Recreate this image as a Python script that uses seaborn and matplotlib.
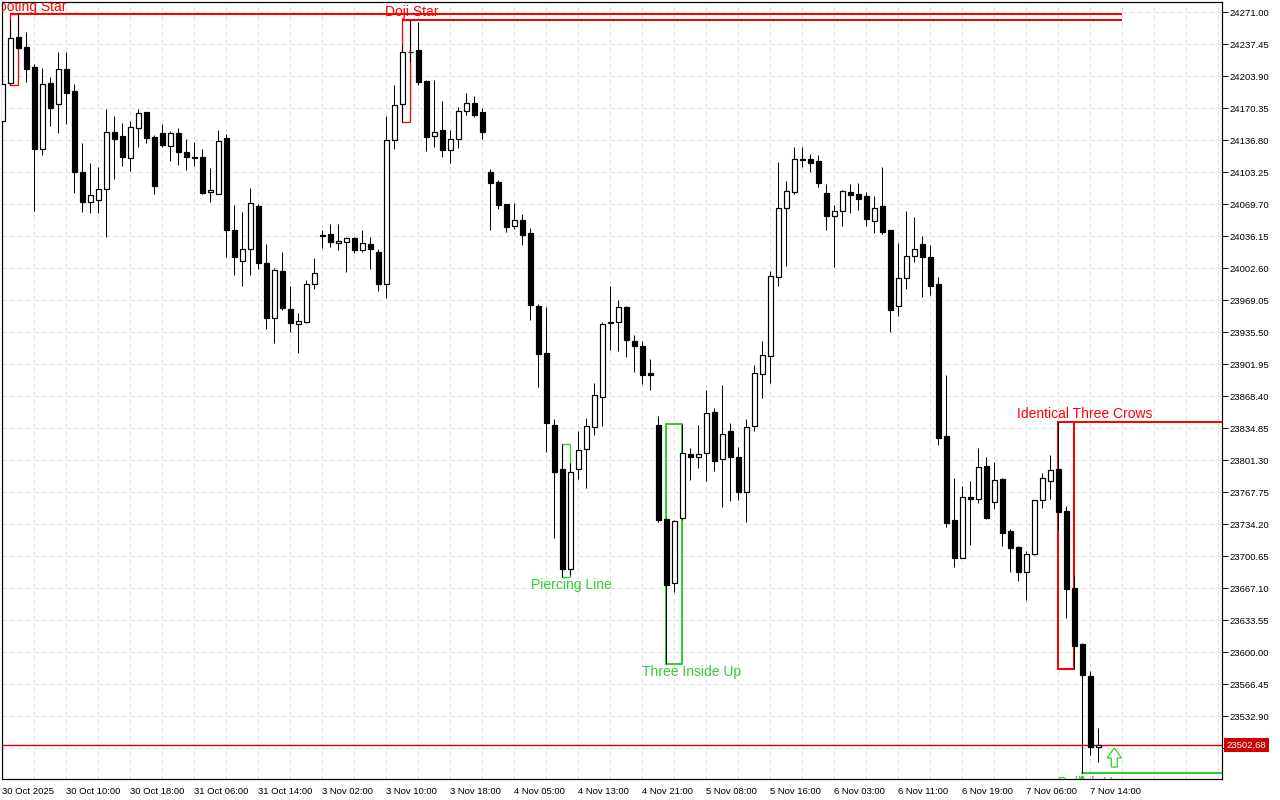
import numpy as np
import pandas as pd
import seaborn as sns
import matplotlib
matplotlib.use("Agg")
import matplotlib.pyplot as plt
from matplotlib.patches import Rectangle, FancyArrow, Polygon
import matplotlib.transforms as mtransforms

# ---------------- data (hourly candles) ----------------
opens = [24157.4, 24196.6, 24244.8, 24234.3, 24213.3, 24128.0, 24196.6, 24175.2, 24211.2, 24188.5,
         24103.2, 24071.8, 24073.9, 24085.4, 24145.2, 24141.3, 24117.9, 24149.4, 24166.2, 24139.9,
         24144.1, 24131.1, 24144.1, 24124.2, 24119.0, 24119.0, 24082.3, 24080.8, 24138.9, 24042.4,
         24010.6, 24023.2, 24067.6, 24007.8, 23951.0, 23999.5, 23959.6, 23943.9, 23946.6, 23985.8,
         24037.2, 24038.2, 24028.8, 24029.9, 24034.1, 24022.1, 24027.8, 24019.4, 23986.5, 24136.8,
         24174.5, 24229.4, 24231.5, 24199.0, 24141.0, 24147.3, 24126.3, 24138.5, 24167.2, 24175.6,
         24166.2, 24103.2, 24092.8, 24069.7, 24046.6, 24052.9, 24039.3, 23962.8, 23913.5, 23838.3,
         23791.9, 23687.0, 23791.9, 23812.8, 23835.9, 23867.4, 23945.6, 23946.0, 23961.7, 23926.1,
         23920.8, 23892.5, 23838.0, 23740.1, 23672.3, 23741.1, 23807.9, 23805.1, 23808.6, 23851.6,
         23802.4, 23831.7, 23804.4, 23767.8, 23837.6, 23891.5, 23911.0, 23993.2, 24066.1, 24082.3,
         24116.6, 24116.9, 24115.1, 24081.5, 24057.1, 24062.4, 24082.3, 24080.2, 24078.1, 24051.9,
         24067.6, 24042.4, 23962.8, 23992.1, 24015.2, 24027.8, 24014.1, 23985.8, 23826.5, 23738.4,
         23698.6, 23762.5, 23761.0, 23795.0, 23757.3, 23781.7, 23727.2, 23710.4, 23684.5, 23702.7,
         23759.4, 23779.3, 23791.9, 23748.1, 23667.4, 23609.0, 23575.2, 23500.4]
highs = [24197.9, 24262.9, 24268.9, 24250.0, 24216.8, 24212.3, 24202.9, 24229.4, 24229.4, 24195.5,
         24133.7, 24112.7, 24108.5, 24169.6, 24162.0, 24154.6, 24157.0, 24169.6, 24167.0, 24142.4,
         24154.2, 24146.2, 24149.7, 24138.2, 24135.0, 24127.4, 24107.8, 24147.6, 24143.4, 24068.7,
         24061.3, 24086.5, 24069.7, 24027.8, 24002.6, 24019.4, 23984.0, 23955.4, 23990.3, 24013.7,
         24042.4, 24049.0, 24049.0, 24035.4, 24035.1, 24042.8, 24035.1, 24023.2, 24162.3, 24194.5,
         24236.7, 24262.9, 24260.8, 24200.0, 24200.0, 24178.0, 24147.6, 24172.0, 24186.4, 24183.2,
         24170.4, 24106.7, 24095.2, 24069.7, 24070.8, 24059.2, 24044.5, 23965.5, 23962.3, 23844.3,
         23818.1, 23798.5, 23832.0, 23846.0, 23882.3, 23946.0, 23984.0, 23969.4, 23963.1, 23932.4,
         23926.1, 23907.2, 23847.7, 23740.8, 23738.7, 23839.4, 23813.9, 23838.3, 23875.0, 23856.5,
         23880.2, 23840.1, 23815.2, 23844.3, 23900.9, 23926.4, 23999.5, 24114.0, 24094.1, 24129.5,
         24129.5, 24122.1, 24121.4, 24091.0, 24068.7, 24084.4, 24091.0, 24092.0, 24082.3, 24078.1,
         24108.5, 24042.4, 24028.8, 24062.7, 24056.1, 24036.2, 24026.7, 23993.2, 23890.4, 23782.7,
         23774.4, 23779.6, 23813.9, 23805.1, 23799.2, 23782.7, 23729.6, 23711.5, 23706.5, 23759.7,
         23787.7, 23806.5, 23841.4, 23753.4, 23680.3, 23609.7, 23580.1, 23520.3]
lows = [24154.9, 24194.8, 24233.0, 24198.2, 24063.0, 24121.7, 24151.8, 24144.8, 24153.9, 24081.9,
        24061.9, 24060.3, 24060.9, 24035.7, 24096.5, 24110.2, 24104.9, 24129.5, 24134.3, 24080.8,
        24129.5, 24115.4, 24111.2, 24106.0, 24110.2, 24080.8, 24072.4, 24080.2, 24014.8, 23995.9,
        23984.4, 23995.9, 24002.2, 23939.3, 23924.6, 23958.9, 23936.1, 23914.1, 23945.0, 23981.2,
        24024.2, 24025.2, 24022.1, 23999.0, 24019.0, 24020.0, 24002.2, 23979.1, 23971.8, 24128.0,
        24156.0, 24218.9, 24195.1, 24125.9, 24130.1, 24119.6, 24113.3, 24129.0, 24163.0, 24161.5,
        24138.5, 24043.1, 24065.1, 24041.0, 24044.1, 24027.3, 23948.7, 23878.5, 23810.3, 23720.2,
        23678.6, 23681.0, 23781.7, 23772.6, 23828.1, 23837.6, 23917.3, 23916.2, 23909.9, 23894.2,
        23881.6, 23875.3, 23736.6, 23587.7, 23663.5, 23738.7, 23780.6, 23793.5, 23779.9, 23790.4,
        23752.6, 23758.9, 23759.7, 23736.9, 23832.3, 23866.9, 23882.7, 23984.4, 24005.3, 24080.2,
        24109.1, 24103.9, 24088.2, 24043.1, 24004.3, 24047.3, 24060.9, 24064.0, 24047.3, 24039.9,
        24038.9, 23936.1, 23952.9, 23981.2, 24009.5, 23972.8, 23974.9, 23817.7, 23731.7, 23689.7,
        23698.4, 23712.8, 23756.9, 23739.8, 23749.9, 23711.5, 23684.2, 23675.1, 23655.2, 23701.7,
        23751.6, 23760.4, 23728.2, 23636.3, 23582.8, 23473.8, 23492.0, 23485.3]
closes = [24195.5, 24243.7, 24233.9, 24211.9, 24128.0, 24195.5, 24171.0, 24211.2, 24186.7, 24103.6,
          24072.4, 24079.1, 24085.4, 24145.2, 24138.5, 24119.6, 24150.4, 24165.1, 24139.5, 24089.2,
          24132.2, 24144.1, 24124.9, 24119.0, 24117.9, 24081.9, 24084.7, 24135.7, 24043.1, 24014.8,
          24022.5, 24070.8, 24008.5, 23950.8, 24000.5, 23960.7, 23944.9, 23947.0, 23985.8, 23997.4,
          24036.2, 24029.9, 24031.2, 24034.1, 24022.1, 24028.8, 24023.2, 23986.5, 24137.4, 24173.5,
          24229.1, 24229.9, 24197.9, 24140.6, 24145.2, 24126.3, 24137.9, 24167.2, 24175.6, 24163.6,
          24145.2, 24091.7, 24069.3, 24046.2, 24052.9, 24037.8, 23964.4, 23913.1, 23840.7, 23789.4,
          23687.6, 23789.4, 23811.8, 23837.3, 23869.5, 23944.5, 23946.3, 23961.7, 23927.1, 23921.5,
          23891.0, 23891.0, 23739.0, 23670.9, 23737.7, 23808.6, 23805.1, 23807.9, 23850.6, 23800.9,
          23828.6, 23805.1, 23768.4, 23835.9, 23892.5, 23911.4, 23994.2, 24065.5, 24083.3, 24116.9,
          24116.9, 24113.3, 24092.4, 24057.8, 24062.4, 24083.3, 24079.1, 24075.6, 24054.6, 24065.5,
          24040.7, 23959.2, 23992.1, 24015.2, 24022.5, 24014.8, 23984.4, 23825.0, 23735.9, 23699.2,
          23762.5, 23761.0, 23794.0, 23740.5, 23780.3, 23725.4, 23709.7, 23684.5, 23703.4, 23759.4,
          23782.4, 23790.8, 23747.4, 23666.7, 23606.9, 23576.5, 23501.0, 23502.68]

time_labels = ["30 Oct 2025", "30 Oct 10:00", "30 Oct 18:00", "31 Oct 06:00", "31 Oct 14:00",
               "3 Nov 02:00", "3 Nov 10:00", "3 Nov 18:00", "4 Nov 05:00", "4 Nov 13:00",
               "4 Nov 21:00", "5 Nov 08:00", "5 Nov 16:00", "6 Nov 03:00", "6 Nov 11:00",
               "6 Nov 19:00", "7 Nov 06:00", "7 Nov 14:00"]
price_ticks = [24271.00, 24237.45, 24203.90, 24170.35, 24136.80, 24103.25, 24069.70, 24036.15,
               24002.60, 23969.05, 23935.50, 23901.95, 23868.40, 23834.85, 23801.30, 23767.75,
               23734.20, 23700.65, 23667.10, 23633.55, 23600.00, 23566.45, 23532.90, 23499.35]
last_price = 23502.68

# candlestick patterns: name, first bar, last bar, box top, box bottom, colour
pattern_names = ["Shooting Star", "Doji Star", "Piercing Line", "Three Inside Up", "Identical Three Crows"]
pattern_first = [1, 50, 70, 83, 132]
pattern_last = [2, 51, 71, 85, 134]
pattern_top = [24268.9, 24262.9, 23818.1, 23839.7, 23841.4]
pattern_bottom = [24194.8, 24156.0, 23678.6, 23587.7, 23582.8]
pattern_kind = ["bear", "bear", "bull", "bull", "bear"]
hammer_low = 23473.8

# ---------------- styling ----------------
sns.set_theme(style="white")
plt.rcParams["font.family"] = ["Liberation Sans", "DejaVu Sans"]
RED = "#ff0000"
GREEN = "#32cd32"
PX = 0.72  # one pixel in points at dpi 100

df = pd.DataFrame({"open": opens, "high": highs, "low": lows, "close": closes})
df["bar"] = np.arange(len(df))

fig = plt.figure(figsize=(12.8, 8.0), dpi=100)
ax = fig.add_axes([2 / 1280, 21 / 800, 1220 / 1280, 777 / 800])
ax.set_facecolor("white")

# grid
for v in price_ticks:
    ax.axhline(v, color="#dcdcdc", lw=PX, ls=(0, (4, 4)), zorder=0)
for b in range(4, 153, 4):
    ax.axvline(b, color="#dcdcdc", lw=PX, ls=(0, (4, 4)), zorder=0)

# pattern boxes and level lines
line_end = 140
for name, f, l, top, bot, kind in zip(pattern_names, pattern_first, pattern_last,
                                      pattern_top, pattern_bottom, pattern_kind):
    col = RED if kind == "bear" else GREEN
    lw = 2 * PX if l - f >= 2 else 1.3 * PX
    ax.add_patch(Rectangle((f, bot), l - f, top - bot, fill=False, ec=col, lw=lw, zorder=1))
    if kind == "bear":
        end = line_end if name != "Identical Three Crows" else 160
        ax.plot([f, end], [top, top], color=col, lw=2 * PX, zorder=1, solid_capstyle="butt")

ax.plot([135, 160], [hammer_low, hammer_low], color=GREEN, lw=2 * PX, zorder=1)

# current price line
ax.axhline(last_price, color="#e00000", lw=1.0, zorder=1.5)

# candles
ax.vlines(df["bar"], df["low"], df["high"], color="black", lw=PX, zorder=2)
up = df["close"] >= df["open"]
bottoms = np.minimum(df["open"], df["close"])
heights = np.maximum(np.abs(df["close"] - df["open"]), 0.3)
ax.bar(df["bar"][up], heights[up], bottom=bottoms[up], width=0.6, color="white",
       edgecolor="black", linewidth=PX * 1.2, zorder=3)
ax.bar(df["bar"][~up], heights[~up], bottom=bottoms[~up], width=0.6, color="black",
       edgecolor="black", linewidth=PX * 1.2, zorder=3)

# labels of patterns
lab_kw = dict(fontsize=10, zorder=5, clip_on=True)
ax.text(8.0, 24276.5, "Shooting Star", color=RED, ha="right", va="center", **lab_kw)
ax.text(51.2, 24271.3, "Doji Star", color=RED, ha="center", va="center", **lab_kw)
ax.text(71.15, 23670.6, "Piercing Line", color=GREEN, ha="center", va="center", **lab_kw)
ax.text(86.15, 23579.3, "Three Inside Up", color=GREEN, ha="center", va="center", **lab_kw)
ax.text(135.3, 23849.8, "Identical Three Crows", color=RED, ha="center", va="center", **lab_kw)
ax.text(131.9, 23470.5, "Bullish Hammer", color=GREEN, ha="left", va="top", **lab_kw)

# arrows
ax.add_patch(FancyArrow(139.0, 23479.7, 0, 20.0, width=0.75, head_width=1.8, head_length=10.5,
                        length_includes_head=True, fc="white", ec=GREEN, lw=1.2 * PX, zorder=5))
ax.add_patch(Polygon([[134.4, 23462.0], [135.6, 23462.0], [135.0, 23470.5]], closed=True,
                     fc=GREEN, ec=GREEN, zorder=5))

# axes limits & ticks
ax.set_xlim(-0.0375, 152.46)
ax.set_ylim(23467.2, 24281.8)
ax.yaxis.tick_right()
ax.set_yticks(price_ticks)
# the lowest label sits under the last-price tag, so it is left empty
ax.set_yticklabels([f"{v:.2f}" if abs(v - last_price) > 10 else "" for v in price_ticks])
ax.set_xticks(np.arange(0, 8 * len(time_labels), 8))
ax.set_xticklabels(time_labels, ha="left")
ax.tick_params(axis="both", which="both", direction="out", length=4, width=PX, colors="black",
               labelsize=6.8, pad=1.5)
ax.tick_params(axis="x", pad=2)
for lbl in ax.get_xticklabels():
    lbl.set_horizontalalignment("left")
for s in ax.spines.values():
    s.set_visible(True)
    s.set_color("black")
    s.set_linewidth(PX * 1.2)
ax.grid(False)

# last price tag on the axis
trans = mtransforms.blended_transform_factory(ax.transAxes, ax.transData)
ax.text(1.0035, last_price, f"{last_price:.2f}", transform=trans, ha="left", va="center",
        color="white", fontsize=6.8, zorder=10, clip_on=False,
        bbox=dict(boxstyle="square,pad=0.28", fc="#cc0000", ec="none"))

fig.savefig("out.png", dpi=100, facecolor="white")
